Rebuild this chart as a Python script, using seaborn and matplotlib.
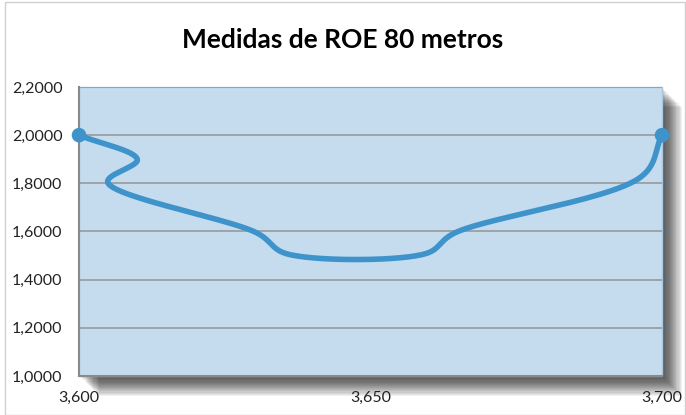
import numpy as np
import pandas as pd
import seaborn as sns
import matplotlib.pyplot as plt
from matplotlib.patches import Rectangle

# Data
freq = [3.600, 3.610, 3.605, 3.630, 3.636, 3.659, 3.665, 3.696, 3.700]
roe = [2.00, 1.90, 1.80, 1.60, 1.505, 1.505, 1.60, 1.82, 2.00]
x_ticks = [3.600, 3.650, 3.700]
x_labels = ['3,600', '3,650', '3,700']
y_ticks = [1.0, 1.2, 1.4, 1.6, 1.8, 2.0, 2.2]
y_labels = ['1,0000', '1,2000', '1,4000', '1,6000', '1,8000', '2,0000', '2,2000']

# rough screen scale (px per unit) so the smoothing works in screen space
SX, SY = 5830.0, 240.8


# smoothed line (Catmull-Rom through the points, like Excel's smoothed line)
def smooth(xs, ys, n=50, alpha=0.35):
    p = np.column_stack([np.array(xs) * SX, np.array(ys) * SY])
    p = np.vstack([2 * p[0] - p[1], p, 2 * p[-1] - p[-2]])
    out = []
    for i in range(1, len(p) - 2):
        p0, p1, p2, p3 = p[i - 1], p[i], p[i + 1], p[i + 2]
        t0 = 0.0
        t1 = t0 + np.linalg.norm(p1 - p0) ** alpha
        t2 = t1 + np.linalg.norm(p2 - p1) ** alpha
        t3 = t2 + np.linalg.norm(p3 - p2) ** alpha
        t = np.linspace(t1, t2, n)[:, None]
        a1 = (t1 - t) / (t1 - t0) * p0 + (t - t0) / (t1 - t0) * p1
        a2 = (t2 - t) / (t2 - t1) * p1 + (t - t1) / (t2 - t1) * p2
        a3 = (t3 - t) / (t3 - t2) * p2 + (t - t2) / (t3 - t2) * p3
        b1 = (t2 - t) / (t2 - t0) * a1 + (t - t0) / (t2 - t0) * a2
        b2 = (t3 - t) / (t3 - t1) * a2 + (t - t1) / (t3 - t1) * a3
        c = (t2 - t) / (t2 - t1) * b1 + (t - t1) / (t2 - t1) * b2
        out.append(c)
    c = np.vstack(out)
    return c[:, 0] / SX, c[:, 1] / SY


sx, sy = smooth(freq, roe)
curve = pd.DataFrame({'x': sx, 'y': sy})

sns.set_style('white')
plt.rcParams['font.family'] = ['Lato', 'DejaVu Sans']

fig = plt.figure(figsize=(6.86, 4.15), dpi=100)
ax = fig.add_axes([79 / 686, 1 - 376 / 415, (662 - 79) / 686, (376 - 87) / 415])

# frame around the whole chart
fig.patches.append(Rectangle((0.008, 0.0), 0.99, 0.995, transform=fig.transFigure,
                             fill=False, edgecolor='#d0d0d0', linewidth=1))

# drop shadow of the plot area, then the plot area itself on top
ax.set_facecolor('none')
for k in range(18):
    off = (k + 1) * 1.1
    ax.add_patch(Rectangle((off / 583, -off / 289), 1, 1, transform=ax.transAxes,
                           facecolor='black', alpha=0.055, edgecolor='none',
                           clip_on=False, zorder=-10))
ax.add_patch(Rectangle((0, 0), 1, 1, transform=ax.transAxes, facecolor='#c4dcee',
                       edgecolor='#a9c8e2', linewidth=1, clip_on=False, zorder=-5))

ax.set_xlim(3.600, 3.700)
ax.set_ylim(1.0, 2.2)
ax.set_yticks(y_ticks)
ax.set_yticklabels(y_labels)
ax.set_xticks(x_ticks)
ax.set_xticklabels(x_labels)
ax.grid(axis='y', color='#999999', linewidth=1.2, zorder=-4)
ax.set_axisbelow(True)

sns.lineplot(data=curve, x='x', y='y', sort=False, estimator=None, ax=ax,
             color='#3e93cb', linewidth=4, solid_capstyle='round', clip_on=False)
sns.scatterplot(x=[freq[0], freq[-1]], y=[roe[0], roe[-1]], ax=ax, color='#3e93cb',
                s=110, edgecolor='none', clip_on=False, zorder=5)

for s in ['top', 'right']:
    ax.spines[s].set_visible(False)
ax.spines['left'].set_color('#8a8a8a')
ax.spines['bottom'].set_color('#8a8a8a')
ax.spines['left'].set_linewidth(1.5)
ax.spines['bottom'].set_linewidth(1.5)

ax.tick_params(axis='both', length=0, labelsize=11.5, colors='#222222')
ax.tick_params(axis='y', pad=12)
ax.tick_params(axis='x', pad=11)
ax.set_xlabel('')
ax.set_ylabel('')

fig.text(0.5, 1 - 40 / 415, 'Medidas de ROE 80 metros', ha='center', va='center',
         fontsize=19, fontweight='bold', color='black')

fig.savefig('out.png', dpi=100)
